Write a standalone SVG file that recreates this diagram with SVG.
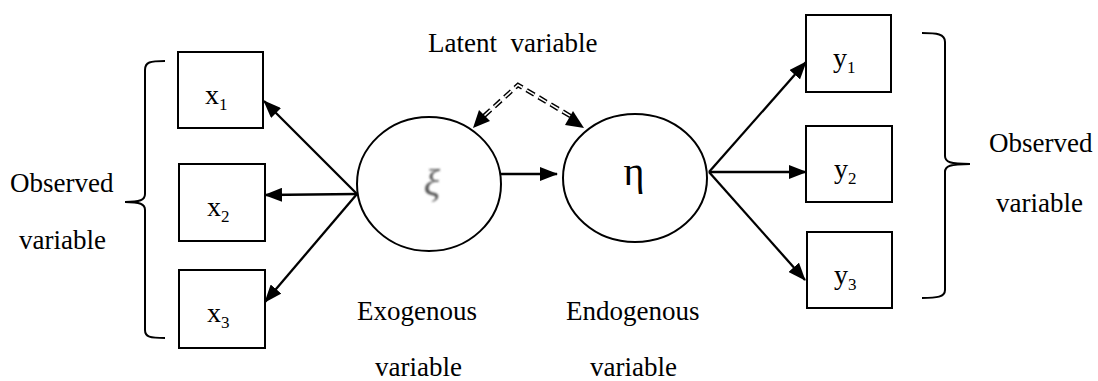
<svg xmlns="http://www.w3.org/2000/svg" width="1098" height="381" viewBox="0 0 1098 381">
<style>
  .lbl { font-size: 27px; white-space: pre; }
  .var { font-size: 28px; }
  .sub { font-size: 17px; }
  .box { fill: #fff; stroke: #000; stroke-width: 2; }
  .ell { fill: #fff; stroke: #000; stroke-width: 2; }
  .arr { stroke: #000; stroke-width: 2.3; fill: none; marker-end: url(#ah); }
  .brace { stroke: #000; stroke-width: 2; fill: none; }
  .dashO { stroke: #000; stroke-width: 4.5; fill: none; stroke-dasharray: 9 5; }
  .dashI { stroke: #fff; stroke-width: 1.6; fill: none; stroke-dasharray: 9 5; }
</style>
<defs>
  <marker id="ah" markerUnits="userSpaceOnUse" markerWidth="18" markerHeight="14" viewBox="0 0 18 14" refX="17" refY="7" orient="auto">
    <path d="M0,0 L18,7 L0,14 Z" fill="#000"/>
  </marker>
  <filter id="blur" x="-20%" y="-20%" width="140%" height="140%">
    <feGaussianBlur stdDeviation="0.9"/>
  </filter>
</defs>
<rect width="1098" height="381" fill="#fff"/>

<g id="connectors">
  <line class="arr" x1="357" y1="194" x2="264" y2="101"/>
  <line class="arr" x1="357" y1="194" x2="265" y2="195"/>
  <line class="arr" x1="357" y1="194" x2="265" y2="302"/>
  <line class="arr" x1="501" y1="174" x2="557" y2="174"/>
  <line class="arr" x1="709" y1="172" x2="806" y2="62"/>
  <line class="arr" x1="709" y1="172" x2="806" y2="172"/>
  <line class="arr" x1="709" y1="172" x2="805" y2="280"/>
  <g id="latent-links">
    <path class="dashO" d="M484,116 L518,85 L572,117"/>
    <path class="dashI" d="M484,116 L518,85 L572,117"/>
    <path d="M473,128 L479,110 L490,121 Z" fill="#000"/>
    <path d="M584,128 L565,125 L573,111 Z" fill="#000"/>
  </g>
</g>

<g id="brace-left"><path class="brace" d="M165,61 C150,61 145,62 145,70 L145,194 C145,200 140,202 125,202 C140,202 145,204 145,210 L145,330 C145,337 150,338 165,338"/></g>
<g id="brace-right"><path class="brace" d="M922,33 C937,33 945,34 945,42 L945,156 C945,162 950,164 970,164 C950,164 945,166 945,172 L945,290 C945,297 937,298 922,298"/></g>

<g id="node-x1"><rect class="box" x="178" y="52" width="85" height="76"/><text class="var" font-family="serif" x="205" y="104">x<tspan class="sub" dy="6">1</tspan></text></g>
<g id="node-x2"><rect class="box" x="179" y="164" width="86" height="77"/><text class="var" font-family="serif" x="207" y="216">x<tspan class="sub" dy="6">2</tspan></text></g>
<g id="node-x3"><rect class="box" x="179" y="270" width="86" height="78"/><text class="var" font-family="serif" x="207" y="322">x<tspan class="sub" dy="6">3</tspan></text></g>

<g id="node-y1"><rect class="box" x="806" y="15" width="85" height="77"/><text class="var" font-family="serif" x="833" y="67">y<tspan class="sub" dy="6">1</tspan></text></g>
<g id="node-y2"><rect class="box" x="806" y="126" width="86" height="76"/><text class="var" font-family="serif" x="834" y="178">y<tspan class="sub" dy="6">2</tspan></text></g>
<g id="node-y3"><rect class="box" x="807" y="232" width="85" height="76"/><text class="var" font-family="serif" x="834" y="284">y<tspan class="sub" dy="6">3</tspan></text></g>

<g id="node-xi"><ellipse class="ell" cx="429" cy="184" rx="72" ry="67"/><text font-family="serif" x="432" y="196" text-anchor="middle" font-size="38" font-style="italic" style="fill:#555" filter="url(#blur)">ξ</text></g>
<g id="node-eta"><ellipse class="ell" cx="635" cy="178" rx="72" ry="64"/><text font-family="serif" x="634" y="185" text-anchor="middle" font-size="40">η</text></g>

<g id="labels">
  <text class="lbl" font-family="serif" x="428" y="52">Latent  variable</text>
  <text class="lbl" font-family="serif" x="10" y="192">Observed</text>
  <text class="lbl" font-family="serif" x="19" y="249">variable</text>
  <text class="lbl" font-family="serif" x="989" y="152">Observed</text>
  <text class="lbl" font-family="serif" x="996" y="212">variable</text>
  <text class="lbl" font-family="serif" x="357" y="320">Exogenous</text>
  <text class="lbl" font-family="serif" x="375" y="376">variable</text>
  <text class="lbl" font-family="serif" x="566" y="320">Endogenous</text>
  <text class="lbl" font-family="serif" x="590" y="376">variable</text>
</g>
</svg>
